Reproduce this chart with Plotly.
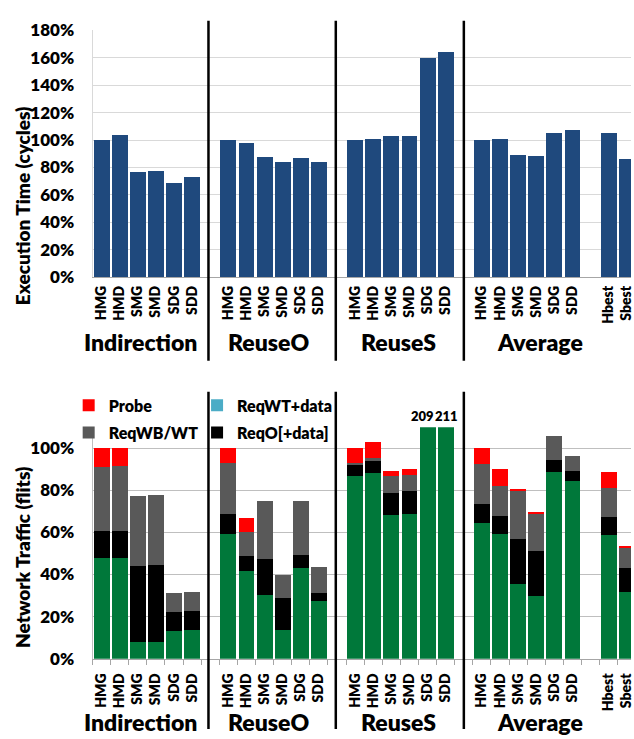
import plotly.graph_objects as go

# ---- categories -------------------------------------------------------------
configs = ["HMG", "HMD", "SMG", "SMD", "SDG", "SDD"]
groups = ["Indirection", "ReuseO", "ReuseS", "Average"]
best_labels = ["Hbest", "Sbest"]

# ---- execution time (% of HMG) ---------------------------------------------
exec_indirection = [100, 103.7, 76.8, 77.5, 68.7, 73.2]
exec_reuse_o = [100, 98.0, 87.7, 84.1, 87.2, 84.1]
exec_reuse_s = [100, 100.9, 102.8, 103.0, 160.2, 164.2]
exec_average = [100, 100.9, 89.3, 88.4, 105.4, 107.2]
exec_best = [104.9, 86.0]

# ---- network traffic components (% of HMG), order:
#      Indirection x6, ReuseO x6, ReuseS x6, Average x6, Hbest, Sbest
traffic_data = [48.0, 48.0, 8.0, 8.0, 13.4, 13.7,
                59.1, 41.8, 30.5, 13.8, 43.1, 27.5,
                86.8, 88.0, 68.2, 68.6, 209, 211,
                64.6, 59.2, 35.4, 30.0, 88.5, 84.3,
                58.9, 31.7]
traffic_reqo = [12.8, 12.8, 36.2, 36.6, 8.8, 8.9,
                9.5, 7.0, 16.9, 15.0, 6.0, 3.7,
                5.2, 5.7, 10.6, 11.2, 0, 0,
                9.1, 8.6, 21.4, 21.1, 5.7, 4.9,
                8.3, 11.5]
traffic_reqwt = [0] * 26
traffic_reqwb = [30.4, 30.6, 33.2, 33.1, 9.0, 9.2,
                 24.6, 11.2, 27.5, 11.0, 25.7, 12.3,
                 0.8, 1.4, 7.8, 7.3, 0, 0,
                 18.6, 14.2, 22.7, 17.7, 11.6, 7.1,
                 14.0, 9.4]
traffic_probe = [8.8, 8.6, 0, 0, 0, 0,
                 6.8, 6.8, 0, 0, 0, 0,
                 7.2, 7.7, 2.5, 2.9, 0, 0,
                 7.7, 8.0, 1.0, 0.7, 0, 0,
                 7.7, 0.9]

# ---- layout helpers ---------------------------------------------------------
W, H = 634, 739
FONT = "Lato"
GROUP_SIZE = len(configs) + 1          # one empty slot between groups

x_pos = []
tick_text = []
for gi, _ in enumerate(groups):
    for ci, c in enumerate(configs):
        x_pos.append(gi * GROUP_SIZE + ci)
        tick_text.append(c)
for bi, b in enumerate(best_labels):
    x_pos.append(len(groups) * GROUP_SIZE + bi)
    tick_text.append(b)

separators = [5.9, 12.93, 20.0]
X_RANGE = [-0.5, 29.23]
TOP_MAX, BOT_MAX = 180, 110


def py(px):
    """pixel row -> paper y"""
    return 1 - px / H


exec_all = exec_indirection + exec_reuse_o + exec_reuse_s + exec_average + exec_best

fig = go.Figure()

fig.add_trace(go.Bar(
    x=x_pos, y=exec_all, marker=dict(color="#1F497D", line=dict(width=0)),
    xaxis="x", yaxis="y", showlegend=False, name="Execution time"))

series = [
    ("ReqV/S+data", traffic_data, "#00783A", None),
    ("ReqO[+data]", traffic_reqo, "#000000", "legend4"),
    ("ReqWB/WT", traffic_reqwb, "#595959", "legend2"),
    ("ReqWT+data", traffic_reqwt, "#4BACC6", "legend3"),
    ("Probe", traffic_probe, "#FF0000", "legend"),
]
for name, vals, col, leg in series:
    fig.add_trace(go.Bar(
        x=x_pos, y=vals, name=name, marker=dict(color=col, line=dict(width=0)),
        xaxis="x2", yaxis="y2",
        showlegend=leg is not None, legend=leg if leg else "legend"))

axis_font = dict(family=FONT, size=17, color="black", weight=800)
cat_font = dict(family=FONT, size=14, color="black", weight=800)

x_dom = [93 / W, 1]
common_x = dict(domain=x_dom, range=X_RANGE, tickmode="array",
                tickvals=x_pos, ticktext=tick_text, tickangle=-90,
                tickfont=cat_font, ticks="", showline=True, linecolor="#A6A6A6",
                linewidth=1, showgrid=False, zeroline=False,
                ticklabeloverflow="allow")
fig.update_layout(
    width=W, height=H, margin=dict(l=0, r=0, t=0, b=0),
    paper_bgcolor="white", plot_bgcolor="white",
    barmode="stack", bargap=0.12,
    font=dict(family=FONT, color="black"),
    xaxis=dict(common_x, anchor="y", ticklabelstandoff=2),
    yaxis=dict(domain=[py(274), py(20)], anchor="x", range=[0, TOP_MAX],
               tickmode="linear", tick0=0, dtick=20, ticksuffix="%",
               tickfont=axis_font,
               showgrid=True, gridcolor="#D9D9D9", gridwidth=1,
               showline=True, linecolor="#D9D9D9", zeroline=False,
               ticks="", ticklabelstandoff=14),
    xaxis2=dict(common_x, anchor="y2", ticklabelstandoff=8,
                minor=dict(tickmode="linear", tick0=-0.5, dtick=1, ticks="outside",
                           ticklen=5, tickcolor="#A6A6A6", showgrid=False)),
    yaxis2=dict(domain=[py(666.7), py(428.3)], anchor="x2", range=[0, BOT_MAX],
                tickmode="linear", tick0=0, dtick=20,
                ticksuffix="%", tickfont=axis_font,
                showgrid=True, gridcolor="#BFBFBF", gridwidth=1,
                showline=True, linecolor="#BFBFBF", zeroline=False,
                ticks="", ticklabelstandoff=14),
)

# legends, one entry each, laid out as a 2x2 block
leg_font = dict(family=FONT, size=16, color="black", weight=800)
leg_pos = {"legend": (69, 406), "legend2": (69, 434),
           "legend3": (198, 406), "legend4": (198, 434)}
for key, (lx, ly) in leg_pos.items():
    fig.update_layout(**{key: dict(x=lx / W, y=py(ly), xanchor="left",
                                   yanchor="middle", bgcolor="rgba(0,0,0,0)",
                                   font=leg_font, itemwidth=30,
                                   itemclick=False, itemdoubleclick=False)})

# group separators
for s in separators:
    for y0, y1 in [(py(360), py(10)), (py(739), py(392))]:
        fig.add_shape(type="line", xref="x", yref="paper", x0=s, x1=s,
                      y0=y0, y1=y1, line=dict(color="black", width=2.5))

# group names under both charts
group_label_x = [2.14, 9.23, 16.37, 24.23]
for gx, g in zip(group_label_x, groups):
    for ypx in (341, 732):
        fig.add_annotation(x=gx, y=py(ypx), xref="x", yref="paper", text=g,
                           showarrow=False, xanchor="center", yanchor="middle",
                           font=dict(family=FONT, size=23, color="black",
                                     weight=800))

# axis titles
for text, ypx in [("Execution Time (cycles)", 200), ("Network Traffic (flits)", 562)]:
    fig.add_annotation(x=22 / W, y=py(ypx), xref="paper", yref="paper", text=text,
                       textangle=-90, showarrow=False, xanchor="center",
                       yanchor="middle",
                       font=dict(family=FONT, size=19, color="black", weight=800))

# values of bars that run past the traffic axis
totals = [sum(v) for v in zip(traffic_data, traffic_reqo, traffic_reqwt,
                              traffic_reqwb, traffic_probe)]
over = [(xp, t) for xp, t in zip(x_pos, totals) if t > BOT_MAX]
for k, (xp, t) in enumerate(over):
    nudge = -5 if k + 1 < len(over) else 1
    fig.add_annotation(x=xp, y=BOT_MAX, xref="x2", yref="y2", text=f"{t:.0f}",
                       showarrow=False, yanchor="bottom", yshift=1, xshift=nudge,
                       font=dict(family=FONT, size=13, color="black", weight=800))

fig.write_html("out.html")
